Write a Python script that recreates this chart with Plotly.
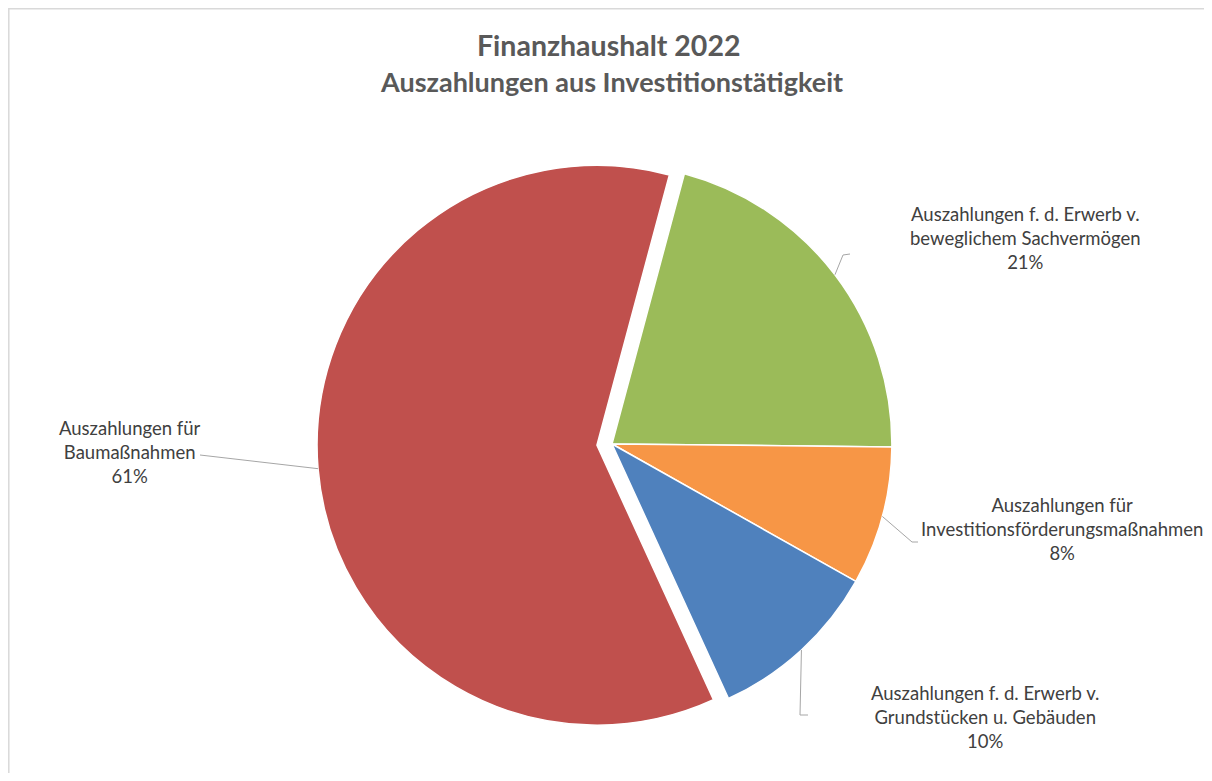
import math
import plotly.graph_objects as go

# Data
categories = [
    "Auszahlungen f. d. Erwerb v.<br>beweglichem Sachvermögen",
    "Auszahlungen für<br>Investitionsförderungsmaßnahmen",
    "Auszahlungen f. d. Erwerb v.<br>Grundstücken u. Gebäuden",
    "Auszahlungen für<br>Baumaßnahmen",
]
values = [21, 8, 10, 61]
colors = ["#9BBB59", "#F79646", "#4F81BD", "#C0504D"]
pulls = [0, 0, 0, 0.054]

# page has an 8px body margin; keep the figure inside the window
OFF = 8
W, H = 1212 - 2 * OFF, 781 - 2 * OFF
FONT = "Lato"

# pie geometry (page pixels)
cx, cy = 612, 444
half = 295
rotation = 15
radius = half / (1 + max(pulls))

# label placement (page pixels): text centre, leader end point, elbow end
label_pos = [(1025, 238), (1062, 529), (985, 717), (130, 452)]
leader_end = [(843, 255), (912, 542), (800, 715), (200, 455)]
elbow_end = [(850, 254), (918, 542), (808, 715), None]


def px(x):
    return (x - OFF) / W


def py(y):
    return 1 - (y - OFF) / H


fig = go.Figure(go.Pie(
    labels=[c.replace("<br>", " ") for c in categories],
    values=values,
    sort=False,
    direction="clockwise",
    rotation=rotation,
    pull=pulls,
    marker=dict(colors=colors, line=dict(color="white", width=1.5)),
    textinfo="none",
    hoverinfo="label+percent",
    showlegend=False,
    domain=dict(x=[px(cx - half), px(cx + half)], y=[py(cy + half), py(cy - half)]),
))

total = sum(values)
shapes = []
annotations = []
start = rotation
for i, v in enumerate(values):
    span = v / total * 360
    mid = math.radians(start + span / 2)
    start += span
    ox = cx + radius * pulls[i] * math.sin(mid)
    oy = cy - radius * pulls[i] * math.cos(mid)
    sx = ox + radius * math.sin(mid)
    sy = oy - radius * math.cos(mid)
    ex, ey = leader_end[i]
    path = f"M {px(sx)} {py(sy)} L {px(ex)} {py(ey)}"
    if elbow_end[i]:
        path += f" L {px(elbow_end[i][0])} {py(elbow_end[i][1])}"
    shapes.append(dict(type="path", xref="paper", yref="paper", path=path,
                       line=dict(color="#a6a6a6", width=1)))
    pct = round(v / total * 100)
    annotations.append(dict(
        x=px(label_pos[i][0]), y=py(label_pos[i][1]), xref="paper", yref="paper",
        text=f"{categories[i]}<br>{pct}%", showarrow=False, align="center",
        xanchor="center", yanchor="middle",
        font=dict(family=FONT, size=18.5, color="#404040"),
    ))

# titles
annotations.append(dict(x=px(608), y=py(45), xref="paper", yref="paper",
                        text="<b>Finanzhaushalt 2022</b>", showarrow=False,
                        xanchor="center", yanchor="middle",
                        font=dict(family=FONT, size=28.5, color="#595959")))
annotations.append(dict(x=px(611), y=py(82), xref="paper", yref="paper",
                        text="<b>Auszahlungen aus Investitionstätigkeit</b>", showarrow=False,
                        xanchor="center", yanchor="middle",
                        font=dict(family=FONT, size=27, color="#595959")))

# chart border (only top and left edges are in frame)
shapes.append(dict(type="path", xref="paper", yref="paper",
                   path=f"M {px(8.8)} {py(800)} L {px(8.8)} {py(8.8)} L {px(1230)} {py(8.8)}",
                   line=dict(color="#d9d9d9", width=1.5)))

fig.update_layout(
    width=W,
    height=H,
    margin=dict(l=0, r=0, t=0, b=0),
    paper_bgcolor="white",
    plot_bgcolor="white",
    font=dict(family=FONT),
    shapes=shapes,
    annotations=annotations,
)

fig.write_html("out.html")
